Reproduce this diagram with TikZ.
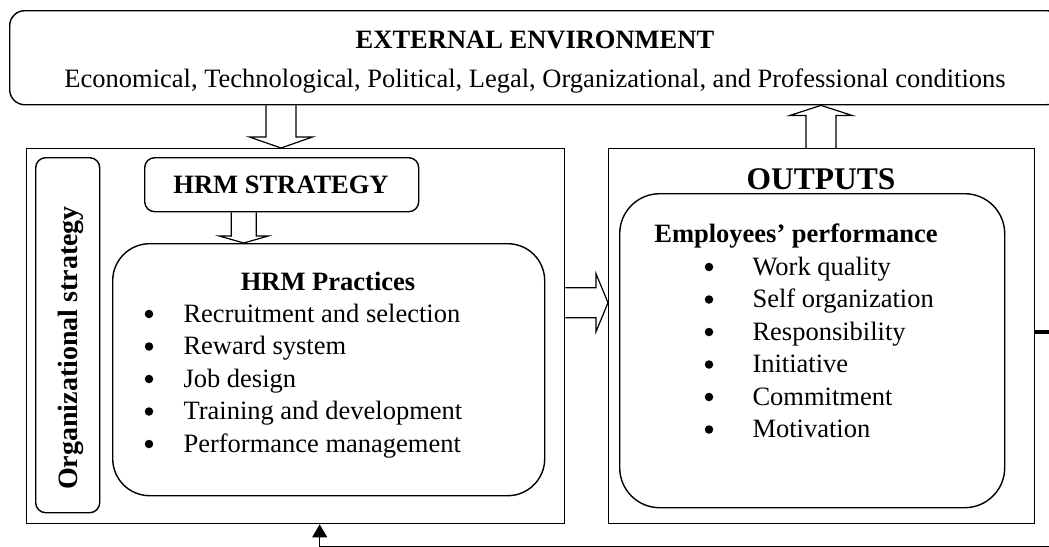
\documentclass[tikz,border=0pt]{standalone}
\usepackage{fontspec}
\setmainfont{Liberation Serif}
\usetikzlibrary{calc,arrows.meta}

\tikzset{
  frame/.style={draw, line width=1.4pt, inner sep=0pt},
  roundframe/.style={frame, rounded corners=#1},
  blockarrow/.style={draw, line width=1.2pt, line join=miter},
  itemtext/.style={anchor=base west, font=\fontsize{26.5}{30}\selectfont},
  dot/.style={circle, fill, inner sep=0pt, minimum size=8.5pt},
  heading/.style={anchor=base, font=\bfseries\fontsize{26.5}{30}\selectfont},
}

% tail, tip, shaft half width, head half width, head length
\newcommand{\hollowarrow}[5]{%
  \draw[blockarrow] let \p1=(#1), \p2=(#2),
    \n1={veclen(\x2-\x1,\y2-\y1)}, \n2={atan2(\y2-\y1,\x2-\x1)} in
    [shift={(\p1)}, rotate=\n2]
    (0,#3) -- ({\n1-#5},#3) -- ({\n1-#5},#4) -- (\n1,0)
    -- ({\n1-#5},-#4) -- ({\n1-#5},-#3) -- (0,-#3);
}

\begin{document}
\begin{tikzpicture}[x=1pt, y=-1pt]
    \useasboundingbox (0,0) rectangle (1049,546);

    % boxes
    \node[roundframe=15pt, minimum width=1052pt, minimum height=94pt, anchor=north west] (ext) at (9,10) {};
    \node[frame, minimum width=538pt, minimum height=375pt, anchor=north west] (leftbox) at (26,148) {};
    \node[frame, minimum width=426pt, minimum height=375pt, anchor=north west] (outbox) at (608,148) {};
    \node[roundframe=10pt, minimum width=64pt, minimum height=355pt, anchor=north west] (orgbox) at (35,157) {};
    \node[roundframe=10pt, minimum width=274pt, minimum height=54pt, anchor=north west] (hrmstrat) at (144,157) {};
    \node[roundframe=37pt, minimum width=432pt, minimum height=252pt, anchor=north west] (practices) at (112,243) {};
    \node[roundframe=40pt, minimum width=385pt, minimum height=314pt, anchor=north west] (perfbox) at (619,193) {};

    % texts
    \node[heading] (exttitle) at (535,48) {EXTERNAL ENVIRONMENT};
    \node[anchor=base, font=\fontsize{26.5}{30}\selectfont] (extsub) at (535,87)
      {Economical, Technological, Political, Legal, Organizational, and Professional conditions};
    \node[heading] (strattext) at (281,193) {HRM STRATEGY};
    \node[heading, rotate=90, font=\bfseries\fontsize{28}{30}\selectfont] (orgtext) at (77,348) {Organizational strategy};
    \node[heading] (practitle) at (328,290) {HRM Practices};
    \node[heading, font=\bfseries\fontsize{31.5}{34}\selectfont] (outtitle) at (821,189) {OUTPUTS};
    \node[heading] (perftitle) at (796,242) {Employees’ performance};

    \foreach \t [count=\i] in {Recruitment and selection, Reward system, Job design,
        Training and development, Performance management} {
      \node[dot] (pb\i) at (149,{322+32.5*(\i-1)-8}) {};
      \node[itemtext] (pt\i) at (180,{322+32.5*(\i-1)}) {\t};
    }
    \foreach \t [count=\i] in {Work quality, Self organization, Responsibility,
        Initiative, Commitment, Motivation} {
      \node[dot] (ob\i) at (709,{275+32.5*(\i-1)-8}) {};
      \node[itemtext] (ot\i) at (749,{275+32.5*(\i-1)}) {\t};
    }

    % block arrows
    \hollowarrow{ext.south -| strattext}{leftbox.north -| strattext}{15}{31.5}{11}
    \hollowarrow{outbox.north -| outtitle}{ext.south -| outtitle}{15}{31}{10}
    \hollowarrow{[xshift=-38pt]hrmstrat.south}{[xshift=-38pt]hrmstrat.south |- practices.north}{12.5}{24.5}{7}
    \hollowarrow{[yshift=33.5pt]leftbox.east}{[yshift=33.5pt]leftbox.east -| outbox.west}{15}{29}{12}

    % feedback
    \draw[line width=4pt] ([yshift=4pt]outbox.east) -- ++(20,0);
    \draw[line width=1pt, -{Triangle[length=13pt, width=15pt]}]
      ([yshift=4pt]outbox.east) -- ++(40,0) |- ([xshift=24pt, yshift=-22pt]leftbox.south)
      -- ([xshift=24pt]leftbox.south);
\end{tikzpicture}
\end{document}
